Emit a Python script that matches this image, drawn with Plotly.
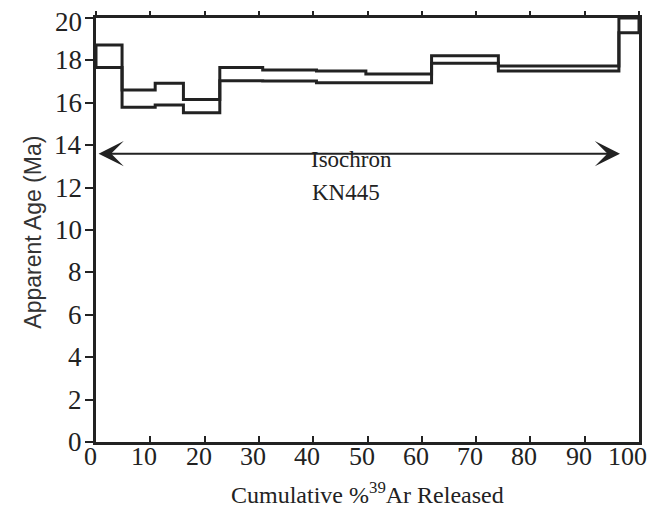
import plotly.graph_objects as go

# Step boundaries (cumulative % 39Ar released) and apparent-age error boxes (Ma)
cum_edges = [0, 4.8, 10.9, 16.1, 22.8, 30.7, 40.6, 49.7, 61.8, 74.1, 96.3, 100]
age_hi = [18.73, 16.6, 16.92, 16.16, 17.66, 17.55, 17.5, 17.36, 18.22, 17.74, 20.0]
age_lo = [17.67, 15.79, 15.9, 15.53, 17.04, 17.03, 16.95, 16.95, 17.86, 17.5, 19.3]

iso_x = [0.2, 96.5]
iso_age = 13.6
iso_lines = ["Isochron", "KN445"]

x_ticks = list(range(0, 101, 10))
x_ticklabels = [str(v) for v in x_ticks]
y_ticks = list(range(0, 21, 2))
y_ticklabels = [str(v) for v in y_ticks]

SERIF = "Times New Roman, Liberation Serif, serif"
SANS = "Arial, Liberation Sans, sans-serif"
INK = "#222"

fig = go.Figure()
# upper and lower step outlines
for vals in (age_hi, age_lo):
    fig.add_trace(go.Scatter(x=cum_edges, y=vals + [vals[-1]], mode="lines",
                             line=dict(color=INK, width=3, shape="hv"),
                             showlegend=False, hoverinfo="skip"))
# outer verticals at first and last edges
fig.add_trace(go.Scatter(x=[cum_edges[0], cum_edges[0], None, cum_edges[-1], cum_edges[-1]],
                         y=[age_lo[0], age_hi[0], None, age_lo[-1], age_hi[-1]],
                         mode="lines", line=dict(color=INK, width=3),
                         showlegend=False, hoverinfo="skip"))
# dummy trace for top axis
fig.add_trace(go.Scatter(x=[0, 100], y=[0, 0], xaxis="x2", mode="lines",
                         line=dict(width=0), showlegend=False, hoverinfo="skip"))

fig.add_annotation(x=iso_x[1], y=iso_age, ax=iso_x[0], ay=iso_age,
                   xref="x", yref="y", axref="x", ayref="y",
                   showarrow=True, arrowhead=3, arrowside="end+start",
                   arrowsize=2.1, arrowwidth=2, arrowcolor=INK, text="")
fig.add_annotation(x=47.0, y=iso_age + 0.4, xref="x", yref="y", text=iso_lines[0],
                   showarrow=False, yanchor="top", xanchor="center",
                   font=dict(family=SERIF, size=23, color=INK))
fig.add_annotation(x=46.0, y=iso_age - 1.15, xref="x", yref="y", text=iso_lines[1],
                   showarrow=False, yanchor="top", xanchor="center",
                   font=dict(family=SERIF, size=23, color=INK))
# x tick labels (slightly left of ticks, as in the original)
for v, lab in zip(x_ticks, x_ticklabels):
    fig.add_annotation(x=v, y=0, xref="x", yref="paper", text=lab,
                       showarrow=False, yanchor="top", xanchor="center",
                       xshift=-12 if v == 100 else -6, yshift=2,
                       font=dict(family=SERIF, size=26, color=INK))
# y tick labels (top one nudged down so it stays inside the page)
for v, lab in zip(y_ticks, y_ticklabels):
    fig.add_annotation(x=0, y=v, xref="paper", yref="y", text=lab,
                       showarrow=False, yanchor="middle", xanchor="right",
                       xshift=-12, yshift=-4 if v == y_ticks[-1] else 0,
                       font=dict(family=SERIF, size=27, color=INK))
fig.add_annotation(x=0.5, y=-0.160, xref="paper", yref="paper",
                   text="Cumulative %<sup>39</sup>Ar Released",
                   showarrow=False, yanchor="bottom", xanchor="center",
                   font=dict(family=SERIF, size=24, color=INK))
fig.add_annotation(x=-0.115, y=0.495, xref="paper", yref="paper",
                   text="Apparent Age (Ma)", textangle=-90,
                   showarrow=False, xanchor="center", yanchor="middle",
                   font=dict(family=SANS, size=23, color="#333"))

# page body has an 8px margin, so the figure is sized to fit the 659x518 window
fig.update_layout(
    width=643, height=502,
    margin=dict(l=88, r=12, t=10, b=68, autoexpand=False),
    plot_bgcolor="white", paper_bgcolor="white",
    font=dict(family=SERIF, size=26, color=INK),
    xaxis=dict(range=[0, 100], tickvals=x_ticks, ticks="inside", ticklen=6,
               tickwidth=2, tickcolor=INK, showline=True, linewidth=3,
               linecolor=INK, mirror=True, showgrid=False, zeroline=False,
               automargin=False, showticklabels=False),
    xaxis2=dict(range=[0, 100], tickvals=x_ticks, overlaying="x", side="top",
                ticks="outside", ticklen=6, tickwidth=2, tickcolor=INK,
                showticklabels=False, showgrid=False, zeroline=False,
                showline=False, automargin=False),
    yaxis=dict(range=[0, 20], tickvals=y_ticks, ticks="outside", ticklen=8,
               tickwidth=2, tickcolor=INK, showline=True, linewidth=3,
               linecolor=INK, mirror=True, showgrid=False, zeroline=False,
               automargin=False, showticklabels=False),
)

fig.write_html("out.html")
